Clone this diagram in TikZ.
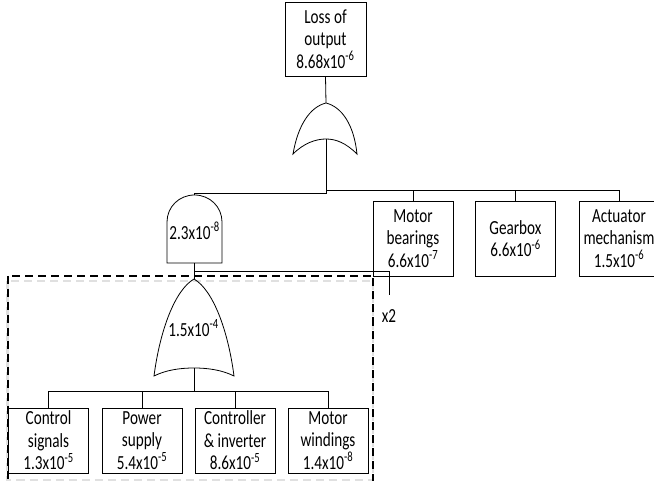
\documentclass[tikz,border=0pt]{standalone}
\usepackage{fontspec}
\setmainfont{Carlito}[FakeStretch=0.76]
\begin{document}
\begin{tikzpicture}[x=1pt,y=-1pt,
  ln/.style={line width=0.8pt},
  evbox/.style={draw, line width=0.8pt, inner sep=0pt, align=center,
    minimum width=80pt, font=\fontsize{20}{22.5}\selectfont},
  gatelbl/.style={inner sep=0pt, font=\fontsize{20}{22}\selectfont}]
\useasboundingbox (0,0) rectangle (654,481);
% dashed enclosure with shadow
\draw[black!12, line width=2.4pt, dash pattern=on 8pt off 5pt] (7.5,281) rectangle (373,480);
\draw[line width=2pt, dash pattern=on 8pt off 5pt] (7.5,276) rectangle (373,495);
% event boxes
\node[evbox, minimum width=81pt, minimum height=74pt] (top) at (325.5,39) {Loss of\\output\\8.68x10\textsuperscript{-6}};
\node[evbox, minimum height=75pt] (mb) at (413,238.5) {Motor\\bearings\\6.6x10\textsuperscript{-7}};
\node[evbox, minimum height=75pt] (gb) at (515.5,238.5) {Gearbox\\6.6x10\textsuperscript{-6}};
\node[evbox, minimum height=75pt] (act) at (619,238.5) {Actuator\\mechanism\\1.5x10\textsuperscript{-6}};
\node[evbox, minimum height=65pt, fill=white] (cs) at (48.5,440.5) {Control\\signals\\1.3x10\textsuperscript{-5}};
\node[evbox, minimum height=65pt] (ps) at (142,440.5) {Power\\supply\\5.4x10\textsuperscript{-5}};
\node[evbox, minimum height=65pt] (ci) at (235,440.5) {Controller\\\& inverter\\8.6x10\textsuperscript{-5}};
\node[evbox, minimum height=65pt] (mw) at (328,440.5) {Motor\\windings\\1.4x10\textsuperscript{-8}};
% OR gate 1
\draw[ln] (293,154) .. controls (298,125) and (310,107) .. (326,103)
  .. controls (342,107) and (354,125) .. (357,154)
  .. controls (346,143) and (336,139) .. (326,139)
  .. controls (316,139) and (304,143) .. (293,154) -- cycle;
\coordinate (or1in) at (326,103);
\coordinate (or1out) at (326,139);
% AND gate
\draw[ln] (167,263) -- (167,222) .. controls (167,207) and (179,195) .. (194.5,195)
  .. controls (210,195) and (222,207) .. (222,222) -- (222,263) -- cycle;
\coordinate (andin) at (194,195);
\coordinate (andout) at (194,263);
\node[gatelbl] (andlbl) at (194.5,231) {2.3x10\textsuperscript{-8}};
% OR gate 2
\draw[ln] (154,376) .. controls (160,330) and (175,290) .. (194,279)
  .. controls (213,290) and (228,330) .. (234,376)
  .. controls (222,370) and (208,368) .. (194,368)
  .. controls (180,368) and (166,370) .. (154,376) -- cycle;
\coordinate (or2in) at (194,279);
\coordinate (or2out) at (194,368);
\node[gatelbl] (or2lbl) at (193.5,328) {1.5x10\textsuperscript{-4}};
% connectors
\coordinate (j1) at (326,193);
\coordinate (j2) at (326,190);
\coordinate (j3) at (194,271);
\coordinate (x2end) at (389,295);
\coordinate (j4) at (194,391);
\draw[ln] (top.south) -- (or1in);
\draw[ln] (or1out) -- (j1) -| (andin);
\draw[ln] (j2) -| (mb.north);
\draw[ln] (j2) -| (gb.north);
\draw[ln] (j2) -| (act.north);
\draw[ln] (andout) -- (or2in);
\draw[ln] (j3) -| (x2end);
\node[gatelbl] (x2) at (389,316) {x2};
\draw[ln] (or2out) -- (j4);
\draw[ln] (j4) -| (cs.north);
\draw[ln] (j4) -| (ps.north);
\draw[ln] (j4) -| (ci.north);
\draw[ln] (j4) -| (mw.north);
\end{tikzpicture}
\end{document}
